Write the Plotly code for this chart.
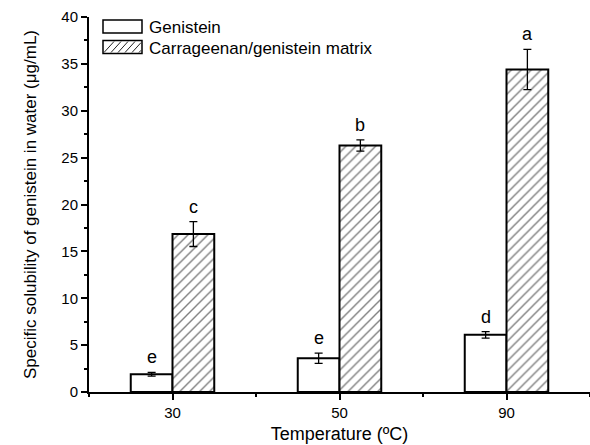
import plotly.graph_objects as go

temps = ["30", "50", "90"]
xpos = [1, 2, 3]
genistein = [1.9, 3.6, 6.1]
genistein_err = [0.2, 0.55, 0.35]
matrix = [16.85, 26.3, 34.4]
matrix_err = [1.33, 0.6, 2.15]
genistein_letters = ["e", "e", "d"]
matrix_letters = ["c", "b", "a"]
series_names = ["Genistein", "Carrageenan/genistein matrix"]

FONT = "Liberation Sans, Arial, sans-serif"
BW = 0.25
W, H = 590, 445
ML, MR, MT, MB = 89, 0, 17, 53
PW, PH = W - ML - MR, H - MT - MB

fig = go.Figure()
fig.add_trace(go.Bar(
    x=xpos, y=genistein, name=series_names[0], width=BW, offset=-BW,
    marker=dict(color="white", line=dict(color="black", width=2)),
    error_y=dict(type="data", array=genistein_err, color="black", thickness=1.3, width=4),
))
fig.add_trace(go.Bar(
    x=xpos, y=matrix, name=series_names[1], width=BW, offset=0,
    marker=dict(color="white", line=dict(color="black", width=2),
                pattern=dict(shape="/", fgcolor="black", bgcolor="white", size=7, solidity=0.2)),
    error_y=dict(type="data", array=matrix_err, color="black", thickness=1.3, width=4),
))

for i, x in enumerate(xpos):
    fig.add_annotation(x=x - BW / 2, y=genistein[i] + genistein_err[i], text=genistein_letters[i],
                       showarrow=False, yanchor="bottom", yshift=3, font=dict(size=18, family=FONT, color="black"))
    fig.add_annotation(x=x + BW / 2, y=matrix[i] + matrix_err[i], text=matrix_letters[i],
                       showarrow=False, yanchor="bottom", yshift=3, font=dict(size=18, family=FONT, color="black"))

# custom legend (decoration, pixel -> paper conversion)
def px(xp):
    return (xp - ML) / PW

def py(yp):
    return (H - MB - yp) / PH

legend_rows = [26.5, 47]
for k, yc in enumerate(legend_rows):
    x0, x1 = 103, 142
    y0, y1 = yc - 6.5, yc + 6.5
    fig.add_shape(type="rect", xref="paper", yref="paper", x0=px(x0), x1=px(x1), y0=py(y1), y1=py(y0),
                  line=dict(color="black", width=1.5), fillcolor="white")
    if k == 1:
        for s in range(6):
            lx0 = x0 + 1 + s * 7
            lx1 = lx0 + 10
            ly0, ly1 = y1 - 1, y0 + 1
            if lx1 > x1 - 1:
                frac = (x1 - 1 - lx0) / 10
                if frac <= 0:
                    continue
                lx1 = x1 - 1
                ly1 = ly0 - (ly0 - ly1) * frac
            fig.add_shape(type="line", xref="paper", yref="paper", x0=px(lx0), x1=px(lx1), y0=py(ly0), y1=py(ly1),
                          line=dict(color="#222222", width=1))
    fig.add_annotation(xref="paper", yref="paper", x=px(147), y=py(yc + 1), text=series_names[k],
                       showarrow=False, xanchor="left", yanchor="middle",
                       font=dict(size=17, family=FONT, color="black"))

fig.update_layout(
    width=W, height=H,
    margin=dict(l=ML, r=MR, t=MT, b=MB),
    paper_bgcolor="white", plot_bgcolor="white",
    font=dict(family=FONT, color="black"),
    showlegend=False,
    bargap=0.5,
)
fig.update_xaxes(
    range=[0.5, 3.5], tickvals=xpos, ticktext=temps,
    showline=True, linecolor="black", linewidth=2, showgrid=False, zeroline=False,
    ticks="outside", ticklen=6, tickwidth=1.5, tickcolor="black",
    minor=dict(tick0=0.5, dtick=0.5, ticks="outside", ticklen=3, tickwidth=1.5, tickcolor="black"),
    tickfont=dict(size=15, family=FONT),
    title=dict(text="Temperature (ºC)", font=dict(size=18, family=FONT), standoff=7),
)
fig.update_yaxes(
    range=[0, 40], dtick=5, tick0=0,
    showline=True, linecolor="black", linewidth=2, showgrid=False, zeroline=False,
    ticks="outside", ticklen=6, tickwidth=1.5, tickcolor="black",
    minor=dict(dtick=2.5, ticks="outside", ticklen=3, tickwidth=1.5, tickcolor="black"),
    tickfont=dict(size=15, family=FONT),
    title=dict(text="Specific solubility of genistein in water (μg/mL)", font=dict(size=17, family=FONT), standoff=20),
)

fig.write_html("out.html")
